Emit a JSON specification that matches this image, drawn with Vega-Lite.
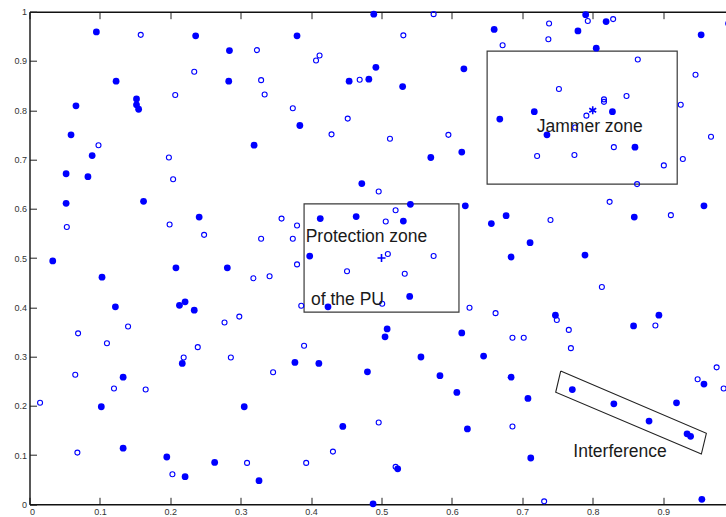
{
  "$schema": "https://vega.github.io/schema/vega-lite/v6.json",
  "width": 696.5,
  "height": 492.6,
  "autosize": {"type": "none"},
  "padding": {"left": 29.5, "top": 11.7, "right": 0, "bottom": 12.7},
  "background": "white",
  "config": {
    "view": {"stroke": null},
    "axis": {
      "grid": false,
      "title": null,
      "domainColor": "#111111",
      "domainWidth": 1.4,
      "tickColor": "#222222",
      "tickWidth": 1,
      "tickSize": -7,
      "labelPadding": 10,
      "labelFont": "Liberation Sans",
      "labelFontSize": 9,
      "labelColor": "#333333"
    }
  },
  "datasets": {
    "zones": [
      {"zone": "Protection zone", "x": 0.39, "x2": 0.61, "y": 0.39, "y2": 0.61},
      {"zone": "Jammer zone", "x": 0.65, "x2": 0.92, "y": 0.65, "y2": 0.92}
    ],
    "interference": [
      {"i": 0, "x": 0.7545, "y": 0.2706},
      {"i": 1, "x": 0.7474, "y": 0.2274},
      {"i": 2, "x": 0.9543, "y": 0.1021},
      {"i": 3, "x": 0.9614, "y": 0.1441},
      {"i": 4, "x": 0.7545, "y": 0.2706}
    ],
    "sources": [
      {"kind": "pu", "x": 0.5, "y": 0.5},
      {"kind": "jammer", "x": 0.8, "y": 0.8}
    ],
    "labels": [
      {"text": "Protection zone", "x": 0.3923, "y": 0.533},
      {"text": "of the PU", "x": 0.3999, "y": 0.4046},
      {"text": "Jammer zone", "x": 0.7205, "y": 0.755},
      {"text": "Interference", "x": 0.7725, "y": 0.0966}
    ],
    "nodes": [
      {"state": "active", "x": 0.095, "y": 0.959},
      {"state": "active", "x": 0.236, "y": 0.951},
      {"state": "active", "x": 0.284, "y": 0.921},
      {"state": "active", "x": 0.123, "y": 0.859},
      {"state": "active", "x": 0.283, "y": 0.859},
      {"state": "active", "x": 0.152, "y": 0.823},
      {"state": "active", "x": 0.152, "y": 0.811},
      {"state": "active", "x": 0.155, "y": 0.802},
      {"state": "active", "x": 0.066, "y": 0.809},
      {"state": "active", "x": 0.059, "y": 0.750},
      {"state": "active", "x": 0.089, "y": 0.708},
      {"state": "active", "x": 0.052, "y": 0.671},
      {"state": "active", "x": 0.083, "y": 0.665},
      {"state": "active", "x": 0.052, "y": 0.611},
      {"state": "active", "x": 0.162, "y": 0.615},
      {"state": "active", "x": 0.241, "y": 0.583},
      {"state": "active", "x": 0.033, "y": 0.494},
      {"state": "active", "x": 0.489, "y": 0.995},
      {"state": "active", "x": 0.380, "y": 0.951},
      {"state": "active", "x": 0.492, "y": 0.887},
      {"state": "active", "x": 0.617, "y": 0.884},
      {"state": "active", "x": 0.454, "y": 0.859},
      {"state": "active", "x": 0.482, "y": 0.863},
      {"state": "active", "x": 0.530, "y": 0.848},
      {"state": "active", "x": 0.384, "y": 0.769},
      {"state": "active", "x": 0.319, "y": 0.729},
      {"state": "active", "x": 0.570, "y": 0.704},
      {"state": "active", "x": 0.614, "y": 0.715},
      {"state": "active", "x": 0.472, "y": 0.651},
      {"state": "active", "x": 0.541, "y": 0.609},
      {"state": "active", "x": 0.619, "y": 0.606},
      {"state": "active", "x": 0.413, "y": 0.580},
      {"state": "active", "x": 0.464, "y": 0.584},
      {"state": "active", "x": 0.531, "y": 0.575},
      {"state": "active", "x": 0.398, "y": 0.504},
      {"state": "active", "x": 0.790, "y": 0.994},
      {"state": "active", "x": 0.819, "y": 0.980},
      {"state": "active", "x": 0.660, "y": 0.964},
      {"state": "active", "x": 0.779, "y": 0.961},
      {"state": "active", "x": 0.954, "y": 0.953},
      {"state": "active", "x": 0.993, "y": 0.976},
      {"state": "active", "x": 0.805, "y": 0.926},
      {"state": "active", "x": 0.717, "y": 0.797},
      {"state": "active", "x": 0.668, "y": 0.782},
      {"state": "active", "x": 0.828, "y": 0.797},
      {"state": "active", "x": 0.735, "y": 0.750},
      {"state": "active", "x": 0.860, "y": 0.725},
      {"state": "active", "x": 0.958, "y": 0.606},
      {"state": "active", "x": 0.677, "y": 0.586},
      {"state": "active", "x": 0.656, "y": 0.570},
      {"state": "active", "x": 0.859, "y": 0.583},
      {"state": "active", "x": 0.711, "y": 0.531},
      {"state": "active", "x": 0.684, "y": 0.502},
      {"state": "active", "x": 0.789, "y": 0.506},
      {"state": "active", "x": 0.103, "y": 0.461},
      {"state": "active", "x": 0.208, "y": 0.480},
      {"state": "active", "x": 0.281, "y": 0.480},
      {"state": "active", "x": 0.122, "y": 0.401},
      {"state": "active", "x": 0.213, "y": 0.404},
      {"state": "active", "x": 0.221, "y": 0.411},
      {"state": "active", "x": 0.234, "y": 0.394},
      {"state": "active", "x": 0.217, "y": 0.286},
      {"state": "active", "x": 0.133, "y": 0.258},
      {"state": "active", "x": 0.102, "y": 0.198},
      {"state": "active", "x": 0.305, "y": 0.198},
      {"state": "active", "x": 0.133, "y": 0.114},
      {"state": "active", "x": 0.195, "y": 0.096},
      {"state": "active", "x": 0.263, "y": 0.085},
      {"state": "active", "x": 0.221, "y": 0.056},
      {"state": "active", "x": 0.424, "y": 0.401},
      {"state": "active", "x": 0.540, "y": 0.422},
      {"state": "active", "x": 0.508, "y": 0.356},
      {"state": "active", "x": 0.505, "y": 0.340},
      {"state": "active", "x": 0.614, "y": 0.348},
      {"state": "active", "x": 0.556, "y": 0.299},
      {"state": "active", "x": 0.645, "y": 0.301},
      {"state": "active", "x": 0.377, "y": 0.288},
      {"state": "active", "x": 0.411, "y": 0.286},
      {"state": "active", "x": 0.480, "y": 0.269},
      {"state": "active", "x": 0.583, "y": 0.261},
      {"state": "active", "x": 0.607, "y": 0.227},
      {"state": "active", "x": 0.445, "y": 0.158},
      {"state": "active", "x": 0.622, "y": 0.153},
      {"state": "active", "x": 0.326, "y": 0.048},
      {"state": "active", "x": 0.523, "y": 0.072},
      {"state": "active", "x": 0.488, "y": 0.001},
      {"state": "active", "x": 0.747, "y": 0.384},
      {"state": "active", "x": 0.894, "y": 0.384},
      {"state": "active", "x": 0.858, "y": 0.362},
      {"state": "active", "x": 0.684, "y": 0.258},
      {"state": "active", "x": 0.708, "y": 0.215},
      {"state": "active", "x": 0.771, "y": 0.233},
      {"state": "active", "x": 0.830, "y": 0.204},
      {"state": "active", "x": 0.919, "y": 0.206},
      {"state": "active", "x": 0.880, "y": 0.169},
      {"state": "active", "x": 0.934, "y": 0.143},
      {"state": "active", "x": 0.939, "y": 0.138},
      {"state": "active", "x": 0.958, "y": 0.244},
      {"state": "active", "x": 0.712, "y": 0.094},
      {"state": "active", "x": 0.955, "y": 0.010},
      {"state": "idle", "x": 0.158, "y": 0.953},
      {"state": "idle", "x": 0.234, "y": 0.878},
      {"state": "idle", "x": 0.207, "y": 0.831},
      {"state": "idle", "x": 0.098, "y": 0.729},
      {"state": "idle", "x": 0.198, "y": 0.704},
      {"state": "idle", "x": 0.204, "y": 0.660},
      {"state": "idle", "x": 0.199, "y": 0.568},
      {"state": "idle", "x": 0.053, "y": 0.563},
      {"state": "idle", "x": 0.248, "y": 0.547},
      {"state": "idle", "x": 0.574, "y": 0.995},
      {"state": "idle", "x": 0.531, "y": 0.952},
      {"state": "idle", "x": 0.323, "y": 0.922},
      {"state": "idle", "x": 0.407, "y": 0.901},
      {"state": "idle", "x": 0.412, "y": 0.911},
      {"state": "idle", "x": 0.329, "y": 0.861},
      {"state": "idle", "x": 0.334, "y": 0.832},
      {"state": "idle", "x": 0.469, "y": 0.862},
      {"state": "idle", "x": 0.374, "y": 0.804},
      {"state": "idle", "x": 0.452, "y": 0.783},
      {"state": "idle", "x": 0.429, "y": 0.751},
      {"state": "idle", "x": 0.512, "y": 0.742},
      {"state": "idle", "x": 0.595, "y": 0.750},
      {"state": "idle", "x": 0.496, "y": 0.635},
      {"state": "idle", "x": 0.520, "y": 0.597},
      {"state": "idle", "x": 0.506, "y": 0.574},
      {"state": "idle", "x": 0.358, "y": 0.580},
      {"state": "idle", "x": 0.380, "y": 0.566},
      {"state": "idle", "x": 0.329, "y": 0.539},
      {"state": "idle", "x": 0.374, "y": 0.539},
      {"state": "idle", "x": 0.509, "y": 0.508},
      {"state": "idle", "x": 0.574, "y": 0.504},
      {"state": "idle", "x": 0.738, "y": 0.976},
      {"state": "idle", "x": 0.793, "y": 0.981},
      {"state": "idle", "x": 0.829, "y": 0.985},
      {"state": "idle", "x": 0.672, "y": 0.932},
      {"state": "idle", "x": 0.737, "y": 0.944},
      {"state": "idle", "x": 0.864, "y": 0.903},
      {"state": "idle", "x": 0.946, "y": 0.872},
      {"state": "idle", "x": 0.752, "y": 0.843},
      {"state": "idle", "x": 0.816, "y": 0.822},
      {"state": "idle", "x": 0.816, "y": 0.817},
      {"state": "idle", "x": 0.848, "y": 0.829},
      {"state": "idle", "x": 0.791, "y": 0.789},
      {"state": "idle", "x": 0.925, "y": 0.811},
      {"state": "idle", "x": 0.775, "y": 0.765},
      {"state": "idle", "x": 0.968, "y": 0.746},
      {"state": "idle", "x": 0.830, "y": 0.725},
      {"state": "idle", "x": 0.721, "y": 0.707},
      {"state": "idle", "x": 0.774, "y": 0.709},
      {"state": "idle", "x": 0.901, "y": 0.688},
      {"state": "idle", "x": 0.928, "y": 0.701},
      {"state": "idle", "x": 0.863, "y": 0.650},
      {"state": "idle", "x": 0.824, "y": 0.614},
      {"state": "idle", "x": 0.911, "y": 0.587},
      {"state": "idle", "x": 0.740, "y": 0.577},
      {"state": "idle", "x": 0.140, "y": 0.361},
      {"state": "idle", "x": 0.069, "y": 0.347},
      {"state": "idle", "x": 0.110, "y": 0.327},
      {"state": "idle", "x": 0.219, "y": 0.298},
      {"state": "idle", "x": 0.239, "y": 0.319},
      {"state": "idle", "x": 0.277, "y": 0.369},
      {"state": "idle", "x": 0.298, "y": 0.381},
      {"state": "idle", "x": 0.286, "y": 0.298},
      {"state": "idle", "x": 0.065, "y": 0.263},
      {"state": "idle", "x": 0.120, "y": 0.235},
      {"state": "idle", "x": 0.165, "y": 0.233},
      {"state": "idle", "x": 0.015, "y": 0.206},
      {"state": "idle", "x": 0.068, "y": 0.105},
      {"state": "idle", "x": 0.203, "y": 0.061},
      {"state": "idle", "x": 0.309, "y": 0.084},
      {"state": "idle", "x": 0.318, "y": 0.459},
      {"state": "idle", "x": 0.341, "y": 0.463},
      {"state": "idle", "x": 0.380, "y": 0.487},
      {"state": "idle", "x": 0.451, "y": 0.473},
      {"state": "idle", "x": 0.533, "y": 0.468},
      {"state": "idle", "x": 0.386, "y": 0.403},
      {"state": "idle", "x": 0.501, "y": 0.407},
      {"state": "idle", "x": 0.625, "y": 0.399},
      {"state": "idle", "x": 0.390, "y": 0.322},
      {"state": "idle", "x": 0.346, "y": 0.268},
      {"state": "idle", "x": 0.496, "y": 0.166},
      {"state": "idle", "x": 0.431, "y": 0.107},
      {"state": "idle", "x": 0.393, "y": 0.084},
      {"state": "idle", "x": 0.520, "y": 0.076},
      {"state": "idle", "x": 0.813, "y": 0.441},
      {"state": "idle", "x": 0.662, "y": 0.388},
      {"state": "idle", "x": 0.749, "y": 0.374},
      {"state": "idle", "x": 0.766, "y": 0.354},
      {"state": "idle", "x": 0.889, "y": 0.363},
      {"state": "idle", "x": 0.686, "y": 0.338},
      {"state": "idle", "x": 0.702, "y": 0.338},
      {"state": "idle", "x": 0.769, "y": 0.317},
      {"state": "idle", "x": 0.976, "y": 0.278},
      {"state": "idle", "x": 0.949, "y": 0.254},
      {"state": "idle", "x": 0.986, "y": 0.235},
      {"state": "idle", "x": 0.686, "y": 0.158},
      {"state": "idle", "x": 0.731, "y": 0.006}
    ]
  },
  "layer": [
    {
      "data": {"name": "zones"},
      "mark": {"type": "rect", "fill": null, "fillOpacity": 0, "stroke": "#3a3a3a", "strokeWidth": 1.2},
      "encoding": {
        "x": {
          "field": "x", "type": "quantitative",
          "scale": {"domain": [0, 0.9893], "nice": false, "zero": false},
          "axis": {"orient": "bottom", "values": [0, 0.1, 0.2, 0.3, 0.4, 0.5, 0.6, 0.7, 0.8, 0.9], "format": "~g"}
        },
        "x2": {"field": "x2"},
        "y": {
          "field": "y", "type": "quantitative",
          "scale": {"domain": [0, 1], "nice": false, "zero": false},
          "axis": {"orient": "left", "values": [0, 0.1, 0.2, 0.3, 0.4, 0.5, 0.6, 0.7, 0.8, 0.9, 1], "format": "~g"}
        },
        "y2": {"field": "y2"}
      }
    },
    {
      "data": {"name": "interference"},
      "mark": {"type": "line", "color": "#222222", "strokeWidth": 1.1},
      "encoding": {
        "x": {
          "field": "x", "type": "quantitative",
          "axis": {"orient": "top", "labels": false, "values": [0, 0.1, 0.2, 0.3, 0.4, 0.5, 0.6, 0.7, 0.8, 0.9]}
        },
        "y": {"field": "y", "type": "quantitative", "axis": null},
        "order": {"field": "i", "type": "quantitative"}
      }
    },
    {
      "data": {"name": "nodes"},
      "transform": [{"filter": "datum.state === 'active'"}],
      "mark": {"type": "point", "shape": "circle", "filled": true, "color": "#0000ff", "opacity": 1, "size": 46},
      "encoding": {
        "x": {"field": "x", "type": "quantitative", "axis": null},
        "y": {"field": "y", "type": "quantitative", "axis": null}
      }
    },
    {
      "data": {"name": "nodes"},
      "transform": [{"filter": "datum.state === 'idle'"}],
      "mark": {"type": "point", "shape": "circle", "filled": false, "color": "#0000ff", "opacity": 1, "size": 25, "strokeWidth": 1.1},
      "encoding": {
        "x": {"field": "x", "type": "quantitative", "axis": null},
        "y": {"field": "y", "type": "quantitative", "axis": null}
      }
    },
    {
      "data": {"name": "sources"},
      "mark": {"type": "point", "filled": false, "color": "#0000ff", "opacity": 1, "size": 64, "strokeWidth": 1.6},
      "encoding": {
        "x": {"field": "x", "type": "quantitative", "axis": null},
        "y": {"field": "y", "type": "quantitative", "axis": null},
        "shape": {
          "field": "kind", "type": "nominal", "legend": null,
          "scale": {
            "domain": ["pu", "jammer"],
            "range": ["M-1,0L1,0M0,-1L0,1", "M0,-1L0,1M-0.87,-0.5L0.87,0.5M-0.87,0.5L0.87,-0.5"]
          }
        }
      }
    },
    {
      "data": {"name": "labels"},
      "mark": {"type": "text", "align": "left", "baseline": "alphabetic", "font": "Liberation Sans", "fontSize": 17.5, "color": "#1a1a1a"},
      "encoding": {
        "x": {"field": "x", "type": "quantitative", "axis": null},
        "y": {"field": "y", "type": "quantitative", "axis": null},
        "text": {"field": "text"}
      }
    }
  ],
  "resolve": {"axis": {"x": "independent", "y": "independent"}}
}
